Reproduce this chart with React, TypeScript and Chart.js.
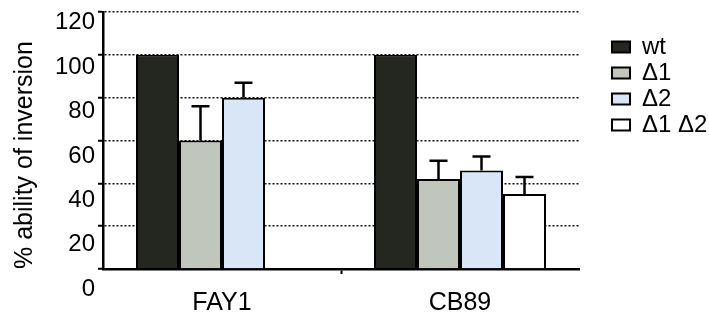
import React, { useEffect, useRef } from 'react';
import { Chart, registerables } from 'chart.js';

Chart.register(...registerables);

// ---- data ----
const categories = ['FAY1', 'CB89'];
const seriesLabels = ['wt', 'Δ1', 'Δ2', 'Δ1 Δ2'];
const wtValues = [100, 100];
const d1Values = [60, 42];
const d2Values = [80, 46];
const d1d2Values = [null, 35];
const d1Errors = [16, 8.5];
const d2Errors = [7, 6.5];
const d1d2Errors = [null, 8];
const yTicks = [0, 20, 40, 60, 80, 100, 120];
const yTitle = '% ability of inversion';

const seriesColors = ['#24271f', '#c0c6bb', '#d9e6f7', '#ffffff'];
const errorSets: (Array<number | null> | null)[] = [null, d1Errors, d2Errors, d1d2Errors];

const FONT = '"Liberation Sans", Arial, Helvetica, sans-serif';

const errorBarPlugin = {
  id: 'errorBars',
  afterDatasetsDraw(chart: any) {
    const { ctx } = chart;
    const yScale = chart.scales.y;
    chart.data.datasets.forEach((ds: any, i: number) => {
      const errs = errorSets[i];
      if (!errs) return;
      const meta = chart.getDatasetMeta(i);
      meta.data.forEach((el: any, j: number) => {
        const v = ds.data[j];
        const e = errs[j];
        if (v == null || e == null) return;
        const x = el.x;
        const y0 = el.y;
        const y1 = yScale.getPixelForValue(v + e);
        ctx.save();
        ctx.strokeStyle = '#000';
        ctx.lineWidth = 2.5;
        ctx.beginPath();
        ctx.moveTo(x, y0);
        ctx.lineTo(x, y1);
        ctx.moveTo(x - 9, y1);
        ctx.lineTo(x + 9, y1);
        ctx.stroke();
        ctx.restore();
      });
    });
  },
};

export default function App() {
  const ref = useRef<HTMLCanvasElement>(null);

  useEffect(() => {
    Chart.defaults.font.family = FONT;
    const valueSets = [wtValues, d1Values, d2Values, d1d2Values];
    const chart = new Chart(ref.current as HTMLCanvasElement, {
      type: 'bar',
      data: {
        labels: categories,
        datasets: seriesLabels.map((label, i) => ({
          label,
          data: valueSets[i] as any,
          backgroundColor: seriesColors[i],
          borderColor: '#000',
          borderWidth: 2,
          barPercentage: 1,
          categoryPercentage: 0.7227,
        })),
      },
      options: {
        animation: false,
        responsive: false,
        maintainAspectRatio: false,
        layout: { padding: { top: 12, left: 0, right: 0, bottom: 0 } },
        plugins: {
          tooltip: { enabled: false },
          legend: {
            position: 'right',
            align: 'start',
            maxWidth: 99,
            title: {
              display: true,
              text: ' ',
              color: 'rgba(0,0,0,0)',
              font: { size: 10, lineHeight: 1 },
              padding: { top: 0, bottom: 11 } as any,
            },
            labels: {
              boxWidth: 18,
              boxHeight: 11,
              padding: 2,
              color: '#000',
              font: { size: 24, family: FONT },
            },
          },
        },
        scales: {
          x: {
            type: 'category',
            position: 'bottom',
            offset: true,
            grid: {
              offset: true,
              drawOnChartArea: false,
              drawTicks: true,
              tickLength: 5,
              tickWidth: 2,
              color: (c: any) => (c.index === 1 ? '#000' : 'rgba(0,0,0,0)'),
              tickColor: (c: any) => (c.index === 1 ? '#000' : 'rgba(0,0,0,0)'),
            },
            border: { display: true, color: '#000', width: 2.5 },
            ticks: {
              color: '#000',
              font: { size: 25, family: FONT },
              padding: 14,
              maxRotation: 0,
              autoSkip: false,
            },
            afterFit: (s: any) => {
              s.height = 51;
              s.paddingLeft = 0;
              s.paddingRight = 0;
            },
          } as any,
          y: {
            type: 'linear',
            position: 'left',
            weight: 0,
            min: 0,
            max: 120,
            ticks: { display: false, stepSize: 20 },
            grid: {
              color: '#111',
              lineWidth: 1.5,
              tickLength: 5,
              tickColor: '#000',
              tickWidth: 2,
            },
            border: { color: '#000', width: 2.5, dash: [2, 2] },
            afterFit: (s: any) => {
              s.width = 6;
              s.paddingTop = 0;
              s.paddingBottom = 0;
            },
          } as any,
          yl: {
            type: 'linear',
            position: 'left',
            weight: 1,
            min: 9.05,
            max: 124.8,
            grid: { display: false, drawTicks: false, drawOnChartArea: false },
            border: { display: false },
            ticks: {
              color: '#000',
              font: { size: 24, family: FONT },
              padding: 2,
              autoSkip: false,
            },
            afterBuildTicks: (s: any) => {
              s.ticks = yTicks.map((v) => ({ value: v }));
            },
            title: {
              display: true,
              text: yTitle,
              color: '#000',
              align: 'start',
              font: { size: 25, family: FONT },
              padding: { top: 10, bottom: 0 },
            },
            afterFit: (s: any) => {
              s.width = 97;
              s.paddingTop = 0;
              s.paddingBottom = 0;
            },
          } as any,
          yr: {
            type: 'linear',
            position: 'right',
            display: true,
            min: 0,
            max: 1,
            grid: { display: false, drawTicks: false, drawOnChartArea: false },
            border: { display: false },
            ticks: { display: false },
            afterFit: (s: any) => {
              s.width = 31;
              s.paddingTop = 0;
              s.paddingBottom = 0;
            },
          } as any,
        },
      },
      plugins: [errorBarPlugin],
    });
    return () => chart.destroy();
  }, []);

  return (
    <div style={{ position: 'absolute', left: 0, top: 0, width: 709, height: 320, background: '#fff' }}>
      <canvas ref={ref} width={709} height={320} style={{ display: 'block', width: 709, height: 320 }} />
    </div>
  );
}
